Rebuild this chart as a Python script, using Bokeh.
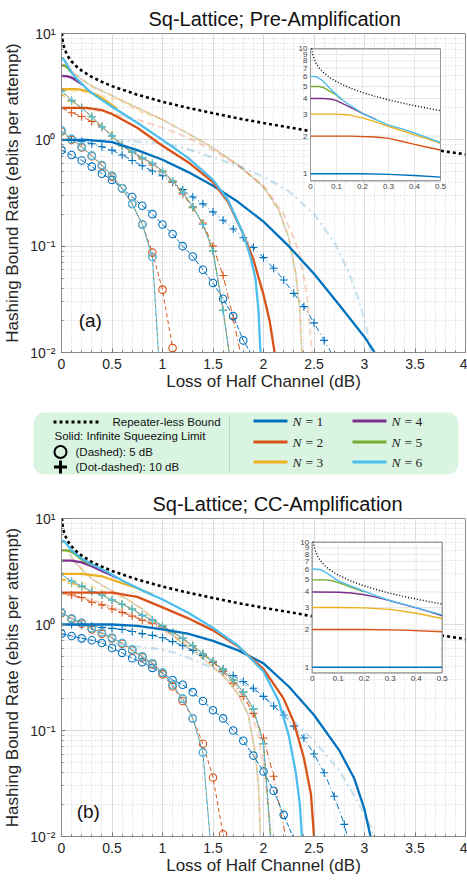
from bokeh.plotting import figure
from bokeh.models import (Range1d, LogScale, FixedTicker,
                          CustomJSTickFormatter, Label, BoxAnnotation)
from bokeh.layouts import column
from bokeh.embed import file_html
from bokeh.resources import INLINE
from bokeh.core.properties import value

FONT = "Liberation Sans"
COL = {1: "#0072BD", 2: "#D95319", 3: "#EDB120", 4: "#7E2F8E", 5: "#77AC30", 6: "#4DBEEE"}

# ---------------- data ----------------
X01 = [0.0, 0.1, 0.2, 0.3, 0.4, 0.5, 0.6, 0.7, 0.8, 0.9, 1.0, 1.1, 1.2, 1.3, 1.4,
       1.5, 1.6, 1.7, 1.8, 1.9, 2.0, 2.1, 2.2, 2.3, 2.4, 2.5, 2.6, 2.7, 2.8]

plob_x = [0.004, 0.01, 0.02, 0.03, 0.05, 0.075, 0.1, 0.15, 0.2, 0.3, 0.4, 0.5, 0.75, 1.0,
          1.25, 1.5, 1.75, 2.0, 2.25, 2.5, 2.75, 3.0, 3.25, 3.5, 3.75, 4.0]
plob_y = [10.08, 8.76, 7.77, 7.18, 6.45, 5.87, 5.46, 4.88, 4.47, 3.90, 3.51, 3.20, 2.66, 2.28,
          2.00, 1.78, 1.59, 1.44, 1.31, 1.19, 1.09, 1.00, 0.925, 0.854, 0.790, 0.730]
inset_plob_x = [0.004, 0.005, 0.01, 0.02, 0.03, 0.05, 0.075, 0.1, 0.15, 0.2, 0.25, 0.3, 0.35, 0.4, 0.45, 0.5]
inset_plob_y = [10.08, 9.76, 8.76, 7.77, 7.18, 6.45, 5.87, 5.46, 4.88, 4.47, 4.16, 3.90, 3.69, 3.51, 3.345, 3.20]

# --- (a) Pre-Amplification: solid (infinite squeezing) ---
pre_n1_x = [0, 0.25, 0.5, 0.75, 1.0, 1.25, 1.5, 1.75, 2.0, 2.25, 2.5, 2.75, 3.0, 3.1]
pre_n1_y = [1.0, 1.0, 0.95, 0.80, 0.65, 0.50, 0.37, 0.26, 0.17, 0.10, 0.055, 0.028, 0.014, 0.01]
pre_n2_x = [0, 0.25, 0.4, 0.5, 0.75, 1.0, 1.25, 1.5, 1.65, 1.8, 1.9, 2.0, 2.06, 2.11]
pre_n2_y = [2.0, 2.0, 1.9, 1.75, 1.3, 0.88, 0.62, 0.40, 0.26, 0.13, 0.075, 0.035, 0.02, 0.01]
pre_n3_x = [0, 0.15, 0.25, 0.35, 0.45, 0.55]
pre_n3_y = [3.0, 3.0, 2.88, 2.65, 2.3, 1.95]
pre_n4_x = [0, 0.06, 0.1, 0.15, 0.21]
pre_n4_y = [4.0, 3.95, 3.85, 3.6, 3.3]
pre_n5_x = [0, 0.03, 0.06, 0.1]
pre_n5_y = [5.0, 5.0, 4.75, 4.3]
pre_n6_x = [0, 0.03, 0.06, 0.1, 0.15, 0.21, 0.27, 0.35, 0.5, 0.75, 1.0, 1.25, 1.5, 1.65, 1.8, 1.87, 1.92, 1.95, 1.97]
pre_n6_y = [5.9, 5.6, 5.0, 4.3, 3.75, 3.3, 2.9, 2.55, 2.05, 1.45, 1.0, 0.68, 0.42, 0.27, 0.13, 0.08, 0.05, 0.025, 0.01]
# 5 dB (circles), values at X01 grid, plus end point
pre_c5_n1_y = [0.80, 0.72, 0.64, 0.56, 0.48, 0.42, 0.35, 0.29, 0.24, 0.20, 0.16, 0.13, 0.10, 0.08, 0.06,
               0.045, 0.032, 0.022, 0.013]
pre_c5_n1_end = (1.87, 0.01)
pre_c5_n36_y = [1.22, 1.02, 0.86, 0.71, 0.58, 0.46, 0.35, 0.25, 0.16, 0.079]
pre_c5_n36_end = (0.96, 0.01)
pre_c5_n2_y = [1.2, 1.0, 0.85, 0.70, 0.57, 0.45, 0.35, 0.25, 0.16, 0.087, 0.039, 0.011]
pre_c5_n2_end = None
# 10 dB (plus)
pre_p10_n1_y = [1.0, 0.99, 0.97, 0.92, 0.86, 0.80, 0.72, 0.64, 0.57, 0.51, 0.46, 0.40, 0.34, 0.29, 0.25,
                0.21, 0.175, 0.145, 0.12, 0.097, 0.078, 0.062, 0.048, 0.036, 0.027, 0.019, 0.013]
pre_p10_n1_end = (2.67, 0.01)
pre_p10_n46_y = [2.9, 2.35, 2.0, 1.65, 1.33, 1.09, 0.88, 0.77, 0.68, 0.6, 0.51, 0.41, 0.32, 0.235, 0.16, 0.09, 0.025]
pre_p10_n3_y = [2.65, 2.3, 2.0, 1.65, 1.33, 1.09, 0.88, 0.77, 0.68, 0.6, 0.51, 0.41, 0.32, 0.235, 0.16, 0.09, 0.025]
pre_p10_n36_end = (1.66, 0.01)
pre_p10_n2_y = [2.0, 1.8, 1.66, 1.49, 1.33, 1.1, 0.88, 0.76, 0.66, 0.58, 0.50, 0.40, 0.31, 0.23, 0.165, 0.10,
                0.053, 0.021]
pre_p10_n2_end = (1.77, 0.01)
# faded curves
pre_pale_bundle_x = [0.03, 0.1, 0.2, 0.3, 0.5, 0.75, 1.0, 1.25, 1.5, 1.75, 2.0, 2.15, 2.25, 2.32, 2.36, 2.38]
pre_pale_bundle_y = [5.5, 4.4, 3.7, 3.2, 2.6, 2.0, 1.55, 1.15, 0.84, 0.58, 0.36, 0.22, 0.12, 0.055, 0.025, 0.01]
pre_pale_n2_x = [0, 0.2, 0.4, 0.6, 0.8, 1.0, 1.25, 1.5, 1.75, 2.0, 2.2, 2.35, 2.43, 2.48]
pre_pale_n2_y = [2.0, 2.0, 1.85, 1.68, 1.5, 1.3, 1.05, 0.80, 0.57, 0.37, 0.2, 0.09, 0.035, 0.01]
pre_pale_n3_x = [0, 0.2, 0.4, 0.6, 0.8, 1.0]
pre_pale_n3_y = [2.9, 2.85, 2.6, 2.3, 1.8, 1.55]
pre_pale_n1_x = [0, 0.5, 1.0, 1.25, 1.5, 1.75, 2.0, 2.25, 2.5, 2.7, 2.85, 2.95, 3.02, 3.06]
pre_pale_n1_y = [1.0, 0.99, 0.93, 0.82, 0.68, 0.57, 0.45, 0.33, 0.2, 0.11, 0.055, 0.03, 0.017, 0.01]
# inset (a)
pin_n1_x = [0, 0.2, 0.3, 0.4, 0.5]
pin_n1_y = [1.0, 1.0, 0.99, 0.97, 0.94]
pin_n2_x = [0, 0.15, 0.25, 0.3, 0.35, 0.4, 0.45, 0.5]
pin_n2_y = [2.0, 2.0, 1.97, 1.92, 1.82, 1.72, 1.63, 1.55]
pin_n3_x = [0, 0.1, 0.15, 0.2, 0.25, 0.3, 0.35, 0.4, 0.45, 0.5]
pin_n3_y = [3.0, 3.0, 2.95, 2.8, 2.6, 2.4, 2.22, 2.05, 1.9, 1.75]
pin_n4_x = [0, 0.05, 0.08, 0.1, 0.13, 0.16, 0.2, 0.25]
pin_n4_y = [4.0, 4.0, 3.95, 3.85, 3.6, 3.35, 3.05, 2.72]
pin_n5_x = [0, 0.03, 0.05, 0.08, 0.1, 0.12]
pin_n5_y = [5.0, 5.0, 4.9, 4.5, 4.25, 3.95]
pin_n6_x = [0, 0.02, 0.04, 0.06, 0.08, 0.1, 0.12, 0.15, 0.2, 0.25, 0.3, 0.35, 0.4, 0.45, 0.5]
pin_n6_y = [6.0, 6.0, 5.7, 5.2, 4.7, 4.3, 3.95, 3.55, 3.05, 2.72, 2.45, 2.3, 2.12, 1.95, 1.78]

# --- (b) CC-Amplification ---
cc_n1_x = [0, 0.25, 0.5, 0.75, 1.0, 1.25, 1.5, 1.75, 2.0, 2.25, 2.5, 2.75, 2.9, 3.0, 3.06]
cc_n1_y = [1.0, 1.0, 1.0, 0.97, 0.9, 0.82, 0.7, 0.57, 0.43, 0.26, 0.14, 0.065, 0.035, 0.018, 0.01]
cc_n2_x = [0, 0.25, 0.5, 0.75, 1.0, 1.25, 1.5, 1.75, 2.0, 2.2, 2.3, 2.4, 2.47, 2.5]
cc_n2_y = [2.0, 2.0, 2.0, 1.82, 1.45, 1.15, 0.88, 0.62, 0.38, 0.2, 0.12, 0.055, 0.025, 0.01]
cc_n3_x = [0, 0.2, 0.4, 0.6, 0.75, 0.9]
cc_n3_y = [3.0, 3.0, 2.85, 2.45, 2.2, 1.92]
cc_n4_x = [0, 0.1, 0.2, 0.3, 0.4, 0.5, 0.55]
cc_n4_y = [4.0, 4.0, 3.85, 3.55, 3.2, 2.9, 2.75]
cc_n5_x = [0, 0.05, 0.1, 0.15, 0.2, 0.3]
cc_n5_y = [5.0, 5.0, 4.85, 4.5, 4.1, 3.65]
cc_n6_x = [0, 0.03, 0.06, 0.1, 0.2, 0.3, 0.45, 0.6, 0.8, 1.0, 1.25, 1.5, 1.75, 2.0, 2.15, 2.25, 2.32, 2.36, 2.38]
cc_n6_y = [6.2, 6.1, 5.6, 5.0, 4.2, 3.7, 3.15, 2.6, 2.1, 1.72, 1.3, 0.93, 0.63, 0.36, 0.19, 0.09, 0.04, 0.02, 0.01]
cc_c5_n1_y = [0.82, 0.78, 0.74, 0.71, 0.67, 0.60, 0.54, 0.48, 0.44, 0.39, 0.35, 0.30, 0.27, 0.23, 0.19,
              0.155, 0.13, 0.10, 0.08, 0.058, 0.041, 0.027, 0.016]
cc_c5_n1_end = (2.29, 0.01)
cc_c5_n36_y = [1.3, 1.14, 1.04, 0.92, 0.84, 0.75, 0.67, 0.58, 0.50, 0.43, 0.35, 0.27, 0.20, 0.13, 0.062]
cc_c5_n36_end = (1.47, 0.01)
cc_c5_n2_y = [1.28, 1.12, 1.02, 0.9, 0.82, 0.74, 0.66, 0.57, 0.49, 0.42, 0.34, 0.26, 0.19, 0.13, 0.075,
              0.036, 0.0105]
cc_c5_n2_end = None
cc_p10_n1_y = [1.0, 1.0, 0.99, 0.97, 0.94, 0.92, 0.90, 0.86, 0.82, 0.79, 0.75, 0.69, 0.63, 0.57, 0.51,
               0.44, 0.38, 0.33, 0.29, 0.25, 0.21, 0.17, 0.14, 0.11, 0.085, 0.06, 0.04, 0.024, 0.013]
cc_p10_n1_end = (2.83, 0.01)
cc_p10_n46_y = [2.96, 2.56, 2.3, 2.05, 1.9, 1.7, 1.55, 1.4, 1.22, 1.1, 0.97, 0.85, 0.74, 0.63, 0.53,
                0.45, 0.37, 0.30, 0.23, 0.16, 0.075]
cc_p10_n3_y = [2.66, 2.45, 2.25, 2.05, 1.9, 1.7, 1.55, 1.4, 1.22, 1.1, 0.97, 0.85, 0.74, 0.63, 0.53,
               0.45, 0.37, 0.30, 0.23, 0.16, 0.075]
cc_p10_n36_end = (2.07, 0.01)
cc_p10_n2_y = [2.0, 1.9, 1.8, 1.62, 1.53, 1.4, 1.3, 1.2, 1.1, 1.03, 0.95, 0.85, 0.74, 0.63, 0.53, 0.44,
               0.36, 0.28, 0.21, 0.145, 0.085, 0.037]
cc_p10_n2_end = (2.22, 0.01)
cc_pale_bundle_x = [0.08, 0.15, 0.3, 0.45, 0.6, 0.8, 1.0, 1.2, 1.4, 1.6, 1.75, 1.85, 1.92, 1.95, 1.97]
cc_pale_bundle_y = [4.6, 3.7, 2.7, 2.2, 1.85, 1.4, 0.95, 0.66, 0.48, 0.33, 0.22, 0.14, 0.06, 0.03, 0.01]
cc_pale_n2_x = [0, 0.3, 0.6, 0.9, 1.2, 1.5, 1.7, 1.85, 1.95, 2.02, 2.07]
cc_pale_n2_y = [1.95, 1.7, 1.35, 1.0, 0.7, 0.45, 0.3, 0.18, 0.09, 0.035, 0.01]
cc_pale_n3_x = [0, 0.2, 0.4, 0.6]
cc_pale_n3_y = [2.7, 2.5, 2.1, 1.8]
cc_pale_n1_x = [0, 0.3, 0.6, 0.9, 1.1, 1.3, 1.6, 1.9, 2.2, 2.5, 2.75, 2.95, 3.05, 3.1]
cc_pale_n1_y = [0.8, 0.72, 0.64, 0.6, 0.55, 0.47, 0.35, 0.24, 0.15, 0.08, 0.042, 0.02, 0.013, 0.01]
# inset (b)
cin_n1_x = [0, 0.25, 0.5]
cin_n1_y = [1.0, 1.0, 1.0]
cin_n2_x = [0, 0.2, 0.35, 0.5]
cin_n2_y = [2.0, 2.0, 1.98, 1.92]
cin_n3_x = [0, 0.1, 0.2, 0.3, 0.4, 0.5]
cin_n3_y = [3.0, 3.0, 2.98, 2.9, 2.7, 2.45]
cin_n4_x = [0, 0.1, 0.15, 0.2, 0.25, 0.3, 0.35, 0.4, 0.45, 0.5]
cin_n4_y = [4.0, 3.98, 3.92, 3.8, 3.62, 3.4, 3.18, 2.98, 2.78, 2.58]
cin_n5_x = [0, 0.05, 0.08, 0.12, 0.15, 0.2]
cin_n5_y = [5.0, 5.0, 4.9, 4.6, 4.35, 4.0]
cin_n6_x = [0, 0.03, 0.06, 0.1, 0.15, 0.2, 0.25, 0.3, 0.35, 0.4, 0.45, 0.5]
cin_n6_y = [6.1, 6.05, 5.6, 4.9, 4.45, 4.05, 3.7, 3.4, 3.2, 3.0, 2.8, 2.62]

x_ticks = [0, 0.5, 1, 1.5, 2, 2.5, 3, 3.5, 4]
x_minor = [0.1, 0.2, 0.3, 0.4, 0.6, 0.7, 0.8, 0.9, 1.1, 1.2, 1.3, 1.4, 1.6, 1.7, 1.8, 1.9, 2.1, 2.2, 2.3, 2.4,
           2.6, 2.7, 2.8, 2.9, 3.1, 3.2, 3.3, 3.4, 3.6, 3.7, 3.8, 3.9]
y_ticks = [0.01, 0.1, 1, 10]
y_minor = [0.02, 0.03, 0.04, 0.05, 0.06, 0.07, 0.08, 0.09, 0.2, 0.3, 0.4, 0.5, 0.6, 0.7, 0.8, 0.9,
           2, 3, 4, 5, 6, 7, 8, 9]
inset_xticks = [0, 0.1, 0.2, 0.3, 0.4, 0.5]
inset_xlabels = ["0", "0.1", "0.2", "0.3", "0.4", "0.5"]
inset_yticks = [1, 2, 3, 4, 5, 6, 7, 8, 9, 10]
inset_ylabels = ["1", "2", "3", "4", "5", "6", "7", "8", "9", "10"]

YFMT = """
const e = Math.round(Math.log10(tick));
const m = {'-': '\u207b', '0': '\u2070', '1': '\u00b9', '2': '\u00b2', '3': '\u00b3'};
return '10' + String(e).split('').map(c => m[c]).join('');
"""

W = 467
FRAME_L, FRAME_R = 61, 465


def marked(p, ys, end, color, dash, marker, offset=0, show_marker=True):
    xs = X01[:len(ys)]
    lx = xs + ([end[0]] if end else [])
    ly = ys + ([end[1]] if end else [])
    p.line(lx, ly, line_color=color, line_dash=dash, line_width=1.0, line_dash_offset=offset)
    if show_marker:
        p.scatter(xs, ys, marker=marker, size=7.5 if marker == "circle" else 8,
                  fill_color=None, line_color=color, line_width=1.1)


def panel(title, title_left, tag, tagpos, H, TB, BB, fr_top, fr_bot, inset_geo, D):
    p = figure(width=W, height=H, x_range=Range1d(0, 4), y_range=Range1d(0.01, 10),
               y_axis_type="log", output_backend="svg", toolbar_location=None,
               min_border_left=FRAME_L, min_border_right=W - FRAME_R,
               min_border_top=TB, min_border_bottom=BB)
    p.frame_align = False
    p.title.text = title
    p.title.align = "left"
    p.title.offset = title_left - FRAME_L
    p.title.text_font = FONT
    p.title.text_font_size = "20px"
    p.title.text_font_style = "normal"
    p.title.text_color = "#111111"
    p.title.standoff = 7
    p.outline_line_color = "#8c8c8c"
    xt = FixedTicker(ticks=x_ticks, minor_ticks=x_minor)
    yt = FixedTicker(ticks=y_ticks, minor_ticks=y_minor)
    p.xaxis.ticker = xt
    p.yaxis.ticker = yt
    p.xaxis.formatter = CustomJSTickFormatter(code="return String(tick);")
    p.yaxis.formatter = CustomJSTickFormatter(code=YFMT)
    p.xaxis.axis_label = "Loss of Half Channel (dB)"
    p.yaxis.axis_label = "Hashing Bound Rate (ebits per attempt)"
    for ax in (p.xaxis[0], p.yaxis[0]):
        ax.axis_line_color = "#8c8c8c"
        ax.major_tick_in = 4
        ax.major_tick_out = 0
        ax.minor_tick_in = 2
        ax.minor_tick_out = 0
        ax.major_tick_line_color = "#777777"
        ax.minor_tick_line_color = "#777777"
        ax.major_label_text_font = FONT
        ax.major_label_text_font_size = "14px"
        ax.major_label_text_color = "#262626"
        ax.axis_label_text_font = FONT
        ax.axis_label_text_font_size = "17px"
        ax.axis_label_text_font_style = "normal"
        ax.axis_label_text_color = "#262626"
    p.xaxis.axis_label_standoff = 0
    p.xaxis.major_label_standoff = 6
    p.yaxis.axis_label_standoff = 5
    p.yaxis.major_label_standoff = 6
    for g, t in ((p.xgrid[0], xt), (p.ygrid[0], yt)):
        g.ticker = t
        g.grid_line_color = "#dcdcdc"
        g.minor_grid_line_color = "#d2d2d2"
        g.minor_grid_line_dash = "1 2"

    # faded curves
    bx, by = D["pale_bundle"]
    for k, c in enumerate(("#9a9a9a", COL[5], COL[3], COL[2])):
        p.line(bx, by, line_color=c, line_alpha=0.24, line_width=1.8, line_dash="5 5",
               line_dash_offset=k * 2)
    x, y = D["pale_n3"]
    p.line(x, y, line_color=COL[3], line_alpha=0.3, line_width=2.0, line_dash="6 4")
    x, y = D["pale_n2"]
    p.line(x, y, line_color=COL[2], line_alpha=0.22, line_width=2.2, line_dash="7 4")
    x, y = D["pale_n1"]
    p.line(x, y, line_color=COL[1], line_alpha=0.2, line_width=2.4, line_dash="8 4 2 4")

    # 10 dB dot-dashed with plus
    DD = "6 3 1 3"
    marked(p, D["p10_n1"][0], D["p10_n1"][1], COL[1], DD, "cross")
    marked(p, D["p10_n2"][0], D["p10_n2"][1], COL[2], DD, "cross")
    marked(p, D["p10_n3"], D["p10_end"], COL[3], DD, "cross", offset=2)
    marked(p, D["p10_n46"], D["p10_end"], COL[5], DD, "cross", offset=5)
    marked(p, D["p10_n46"], D["p10_end"], "#888888", DD, "cross", offset=8, show_marker=False)
    marked(p, D["p10_n46"], D["p10_end"], COL[6], DD, "cross", offset=0)
    # 5 dB dashed with circles
    DS = "4 3"
    marked(p, D["c5_n1"][0], D["c5_n1"][1], COL[1], "5 2", "circle")
    marked(p, D["c5_n2"][0], D["c5_n2"][1], COL[2], DS, "circle")
    marked(p, D["c5_n36"][0], D["c5_n36"][1], "#6f8f6f", DS, "circle", offset=3)
    marked(p, D["c5_n36"][0], D["c5_n36"][1], COL[6], DS, "circle", offset=0)

    # solid (infinite squeezing)
    for n in (1, 2, 3, 4, 5, 6):
        x, y = D["solid"][n]
        p.line(x, y, line_color=COL[n], line_width=2.3)
    p.line(plob_x, plob_y, line_color="black", line_width=2.6, line_dash="3 3")

    # inset via extra ranges mapped onto a sub-rectangle of the frame
    bx0, bx1, ten_py, one_py, ybot = inset_geo
    s = (bx1 - bx0) / 0.5
    dpx = one_py - ten_py
    p.extra_x_ranges = {"ix": Range1d(-(bx0 - FRAME_L) / s, 0.5 + (FRAME_R - bx1) / s)}
    p.extra_y_ranges = {"iy": Range1d(10 ** (-(fr_bot - one_py) / dpx), 10 ** (1 + (ten_py - fr_top) / dpx))}
    p.extra_y_scales = {"iy": LogScale()}
    kw = dict(x_range_name="ix", y_range_name="iy")
    p.quad(left=[0], right=[0.5], bottom=[ybot], top=[10], fill_color="white",
           line_color="#9a9a9a", line_width=1, **kw)
    for xv in inset_xticks[1:-1]:
        p.line([xv, xv], [ybot, 10], line_color="#e6e6e6", line_width=1, **kw)
    for yv in inset_yticks[1:-1]:
        p.line([0, 0.5], [yv, yv], line_color="#e6e6e6", line_width=1, **kw)
    p.quad(left=[0], right=[0.5], bottom=[ybot], top=[10], fill_color=None,
           line_color="#9a9a9a", line_width=1, **kw)
    for n in (1, 2, 3, 4, 5, 6):
        x, y = D["inset"][n]
        p.line(x, y, line_color=COL[n], line_width=1.4, **kw)
    p.line(inset_plob_x, inset_plob_y, line_color="black", line_width=1.4, line_dash="1 2", **kw)
    p.text(x=inset_xticks, y=[ybot] * len(inset_xticks), text=inset_xlabels, text_font=value(FONT),
           text_font_size=value("8px"), text_color="#444444", text_align="center",
           text_baseline="top", y_offset=3, **kw)
    p.text(x=[0] * len(inset_yticks), y=inset_yticks, text=inset_ylabels, text_font=value(FONT),
           text_font_size=value("8px"), text_color="#444444", text_align="right",
           text_baseline="middle", x_offset=-3, **kw)

    p.add_layout(Label(x=tagpos[0], y=tagpos[1], text=tag, text_font=FONT, text_font_size="19px",
                       text_baseline="middle", text_color="#111111"))
    return p


PRE = {
    "solid": {1: (pre_n1_x, pre_n1_y), 2: (pre_n2_x, pre_n2_y), 3: (pre_n3_x, pre_n3_y),
              4: (pre_n4_x, pre_n4_y), 5: (pre_n5_x, pre_n5_y), 6: (pre_n6_x, pre_n6_y)},
    "c5_n1": (pre_c5_n1_y, pre_c5_n1_end), "c5_n2": (pre_c5_n2_y, pre_c5_n2_end),
    "c5_n36": (pre_c5_n36_y, pre_c5_n36_end),
    "p10_n1": (pre_p10_n1_y, pre_p10_n1_end), "p10_n2": (pre_p10_n2_y, pre_p10_n2_end),
    "p10_n3": pre_p10_n3_y, "p10_n46": pre_p10_n46_y, "p10_end": pre_p10_n36_end,
    "pale_bundle": (pre_pale_bundle_x, pre_pale_bundle_y), "pale_n2": (pre_pale_n2_x, pre_pale_n2_y),
    "pale_n3": (pre_pale_n3_x, pre_pale_n3_y), "pale_n1": (pre_pale_n1_x, pre_pale_n1_y),
    "inset": {1: (pin_n1_x, pin_n1_y), 2: (pin_n2_x, pin_n2_y), 3: (pin_n3_x, pin_n3_y),
              4: (pin_n4_x, pin_n4_y), 5: (pin_n5_x, pin_n5_y), 6: (pin_n6_x, pin_n6_y)},
}
CC = {
    "solid": {1: (cc_n1_x, cc_n1_y), 2: (cc_n2_x, cc_n2_y), 3: (cc_n3_x, cc_n3_y),
              4: (cc_n4_x, cc_n4_y), 5: (cc_n5_x, cc_n5_y), 6: (cc_n6_x, cc_n6_y)},
    "c5_n1": (cc_c5_n1_y, cc_c5_n1_end), "c5_n2": (cc_c5_n2_y, cc_c5_n2_end),
    "c5_n36": (cc_c5_n36_y, cc_c5_n36_end),
    "p10_n1": (cc_p10_n1_y, cc_p10_n1_end), "p10_n2": (cc_p10_n2_y, cc_p10_n2_end),
    "p10_n3": cc_p10_n3_y, "p10_n46": cc_p10_n46_y, "p10_end": cc_p10_n36_end,
    "pale_bundle": (cc_pale_bundle_x, cc_pale_bundle_y), "pale_n2": (cc_pale_n2_x, cc_pale_n2_y),
    "pale_n3": (cc_pale_n3_x, cc_pale_n3_y), "pale_n1": (cc_pale_n1_x, cc_pale_n1_y),
    "inset": {1: (cin_n1_x, cin_n1_y), 2: (cin_n2_x, cin_n2_y), 3: (cin_n3_x, cin_n3_y),
              4: (cin_n4_x, cin_n4_y), 5: (cin_n5_x, cin_n5_y), 6: (cin_n6_x, cin_n6_y)},
}

# page geometry (no body margin in Bokeh's template)
TOP_H, LEG_H, BOT_H = 395, 90, 401
top = panel("Sq-Lattice; Pre-Amplification", 148, "(a)", (0.17, 0.02), TOP_H, 33, 43, 33, 352,
            (310, 440, 48.3, 173.3, 0.88), PRE)
bot = panel("Sq-Lattice; CC-Amplification", 152, "(b)", (0.15, 0.0172), BOT_H, 33, 50, 518, 836,
            (311.7, 441.7, 541.7, 666.7, 0.9), CC)

# ---------------- legend panel (coordinates = page px, y offset by top panel) ----------------
lg = figure(width=W, height=LEG_H, x_range=Range1d(0, W), y_range=Range1d(LEG_H, 0),
            output_backend="svg", toolbar_location=None, min_border=0,
            min_border_left=0, min_border_right=0, min_border_top=0, min_border_bottom=0,
            x_axis_location=None, y_axis_location=None)
lg.frame_align = False
lg.grid.visible = False
lg.outline_line_color = None
lg.add_layout(BoxAnnotation(left=33, right=458, top=17, bottom=79, fill_color="#d9f5e1",
                            fill_alpha=1.0, line_color=None, level="underlay", border_radius=11))
lg.line([53, 98], [26.5, 26.5], line_color="black", line_width=3, line_dash="3 3")
left_texts = ["Repeater-less Bound", "Solid: Infinite Squeezing Limit", "(Dashed): 5 dB", "(Dot-dashed): 10 dB"]
lg.text(x=[112, 54, 75, 75], y=[26.5, 40.5, 56.5, 71.5], text=left_texts, text_font=value(FONT),
        text_font_size=value("11.5px"), text_color="#111111", text_baseline="middle")
lg.scatter([60], [56.5], marker="circle", size=12, fill_color=None, line_color="black", line_width=2)
lg.scatter([60], [71.5], marker="cross", size=13, line_color="black", line_width=3)
lg.line([229, 229], [21, 76], line_color="#9ccfaa", line_width=1, line_dash="2 1")
leg_n = [1, 2, 3, 4, 5, 6]
leg_x0 = [253, 253, 253, 352, 352, 352]
leg_y = [25.5, 46.5, 66.5, 25.5, 46.5, 66.5]
for n, x0, yv in zip(leg_n, leg_x0, leg_y):
    lg.line([x0, x0 + 34], [yv, yv], line_color=COL[n], line_width=3)
    lg.text(x=[x0 + 39], y=[yv], text=["N"], text_font=value("Liberation Serif"),
            text_font_style=value("italic"), text_font_size=value("13.5px"), text_color="#222222",
            text_baseline="middle")
    lg.text(x=[x0 + 52], y=[yv], text=["= %d" % n], text_font=value("Liberation Serif"),
            text_font_size=value("13.5px"), text_color="#222222", text_baseline="middle")

layout = column(top, lg, bot)
open("out.html", "w").write(file_html(layout, INLINE))
